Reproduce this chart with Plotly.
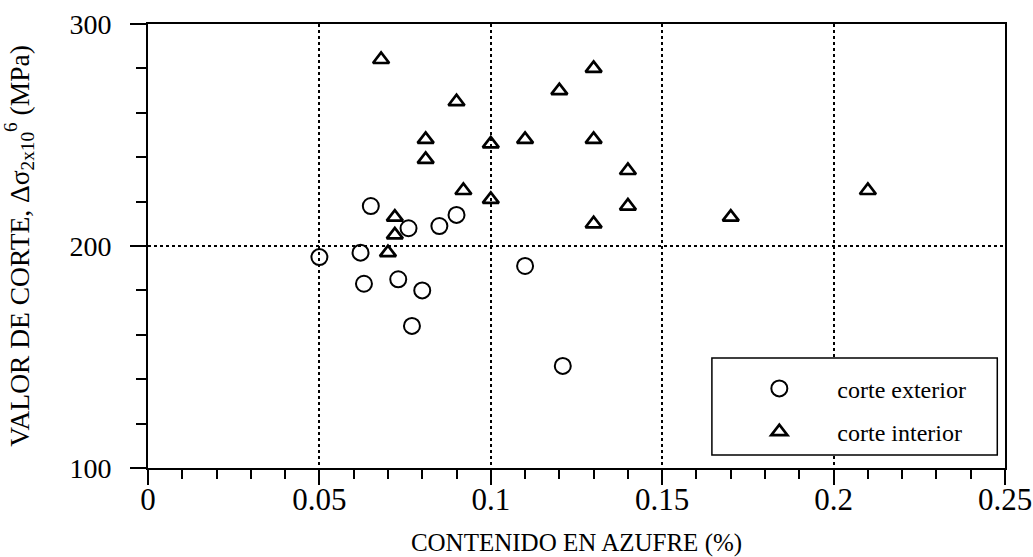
import plotly.graph_objects as go

# corte exterior (circles)
ext_x = [0.050, 0.062, 0.063, 0.065, 0.073, 0.076, 0.077, 0.080, 0.085, 0.090, 0.110, 0.121]
ext_y = [195, 197, 183, 218, 185, 208, 164, 180, 209, 214, 191, 146]

# corte interior (triangles)
int_x = [0.068, 0.070, 0.072, 0.072, 0.081, 0.081, 0.090, 0.092, 0.100, 0.100,
         0.110, 0.120, 0.130, 0.130, 0.130, 0.140, 0.140, 0.170, 0.210]
int_y = [284, 197, 205, 213, 248, 239, 265, 225, 246, 221,
         248, 270, 280, 248, 210, 234, 218, 213, 225]

x_ticks = [0, 0.05, 0.1, 0.15, 0.2, 0.25]
x_ticklabels = ["0", "0.05", "0.1", "0.15", "0.2", "0.25"]
y_ticks = [100, 200, 300]

FONT = "Liberation Serif, Times New Roman, serif"

fig = go.Figure()
fig.add_trace(go.Scatter(
    x=ext_x, y=ext_y, mode="markers", name="corte exterior", legendgroup="a",
    marker=dict(symbol="circle-open", size=16, color="black", line=dict(width=2, color="black")),
))
fig.add_trace(go.Scatter(
    x=int_x, y=int_y, mode="markers", name="corte interior", legendgroup="b",
    marker=dict(symbol="triangle-up-open", size=14, color="black", line=dict(width=2.7, color="black")),
))

fig.update_layout(
    width=1033, height=557,
    margin=dict(l=148, r=28, t=24, b=89),
    paper_bgcolor="white", plot_bgcolor="white",
    font=dict(family=FONT, color="black", size=26),
    showlegend=True,
    legend=dict(
        x=0.669, y=0.229, xanchor="left", yanchor="top",
        bgcolor="rgba(0,0,0,0)", borderwidth=0,
        font=dict(family=FONT, size=24, color="black"),
        itemwidth=106, tracegroupgap=9,
    ),
    shapes=[dict(
        type="rect", xref="paper", yref="paper",
        x0=0.658, x1=0.991, y0=0.029, y1=0.248,
        line=dict(color="black", width=1.5), fillcolor="white", layer="above",
    )],
)

fig.update_xaxes(
    range=[0, 0.25], tickvals=x_ticks, ticktext=x_ticklabels, automargin=False,
    showline=True, linecolor="black", linewidth=2, mirror=True,
    ticks="outside", ticklen=15, tickwidth=2, tickcolor="black",
    ticklabelstandoff=-12,
    minor=dict(dtick=0.01, ticks="outside", ticklen=9, tickwidth=1.5, tickcolor="black", showgrid=False),
    showgrid=True, gridcolor="black", griddash="dot", gridwidth=1.5,
    zeroline=False,
    tickfont=dict(family=FONT, size=31, color="black"),
    title=dict(text="CONTENIDO EN AZUFRE (%)", font=dict(family=FONT, size=25, color="black"), standoff=18),
)
fig.update_yaxes(
    range=[100, 300], tickvals=y_ticks, automargin=False,
    showline=True, linecolor="black", linewidth=2, mirror=True,
    ticks="outside", ticklen=16, tickwidth=2, tickcolor="black",
    ticklabelstandoff=13,
    minor=dict(dtick=20, ticks="outside", ticklen=10, tickwidth=1.5, tickcolor="black", showgrid=False),
    showgrid=True, gridcolor="black", griddash="dot", gridwidth=1.5,
    zeroline=False,
    tickfont=dict(family=FONT, size=28, color="black"),
    title=dict(text="VALOR DE CORTE, Δσ<sub>2x10</sub><sup>6</sup> (MPa)",
               font=dict(family=FONT, size=27.5, color="black"), standoff=33),
)

fig.write_html(
    "out.html",
    config={"displayModeBar": False},
    post_script="document.body.style.margin='0';document.body.style.overflow='hidden';",
)
